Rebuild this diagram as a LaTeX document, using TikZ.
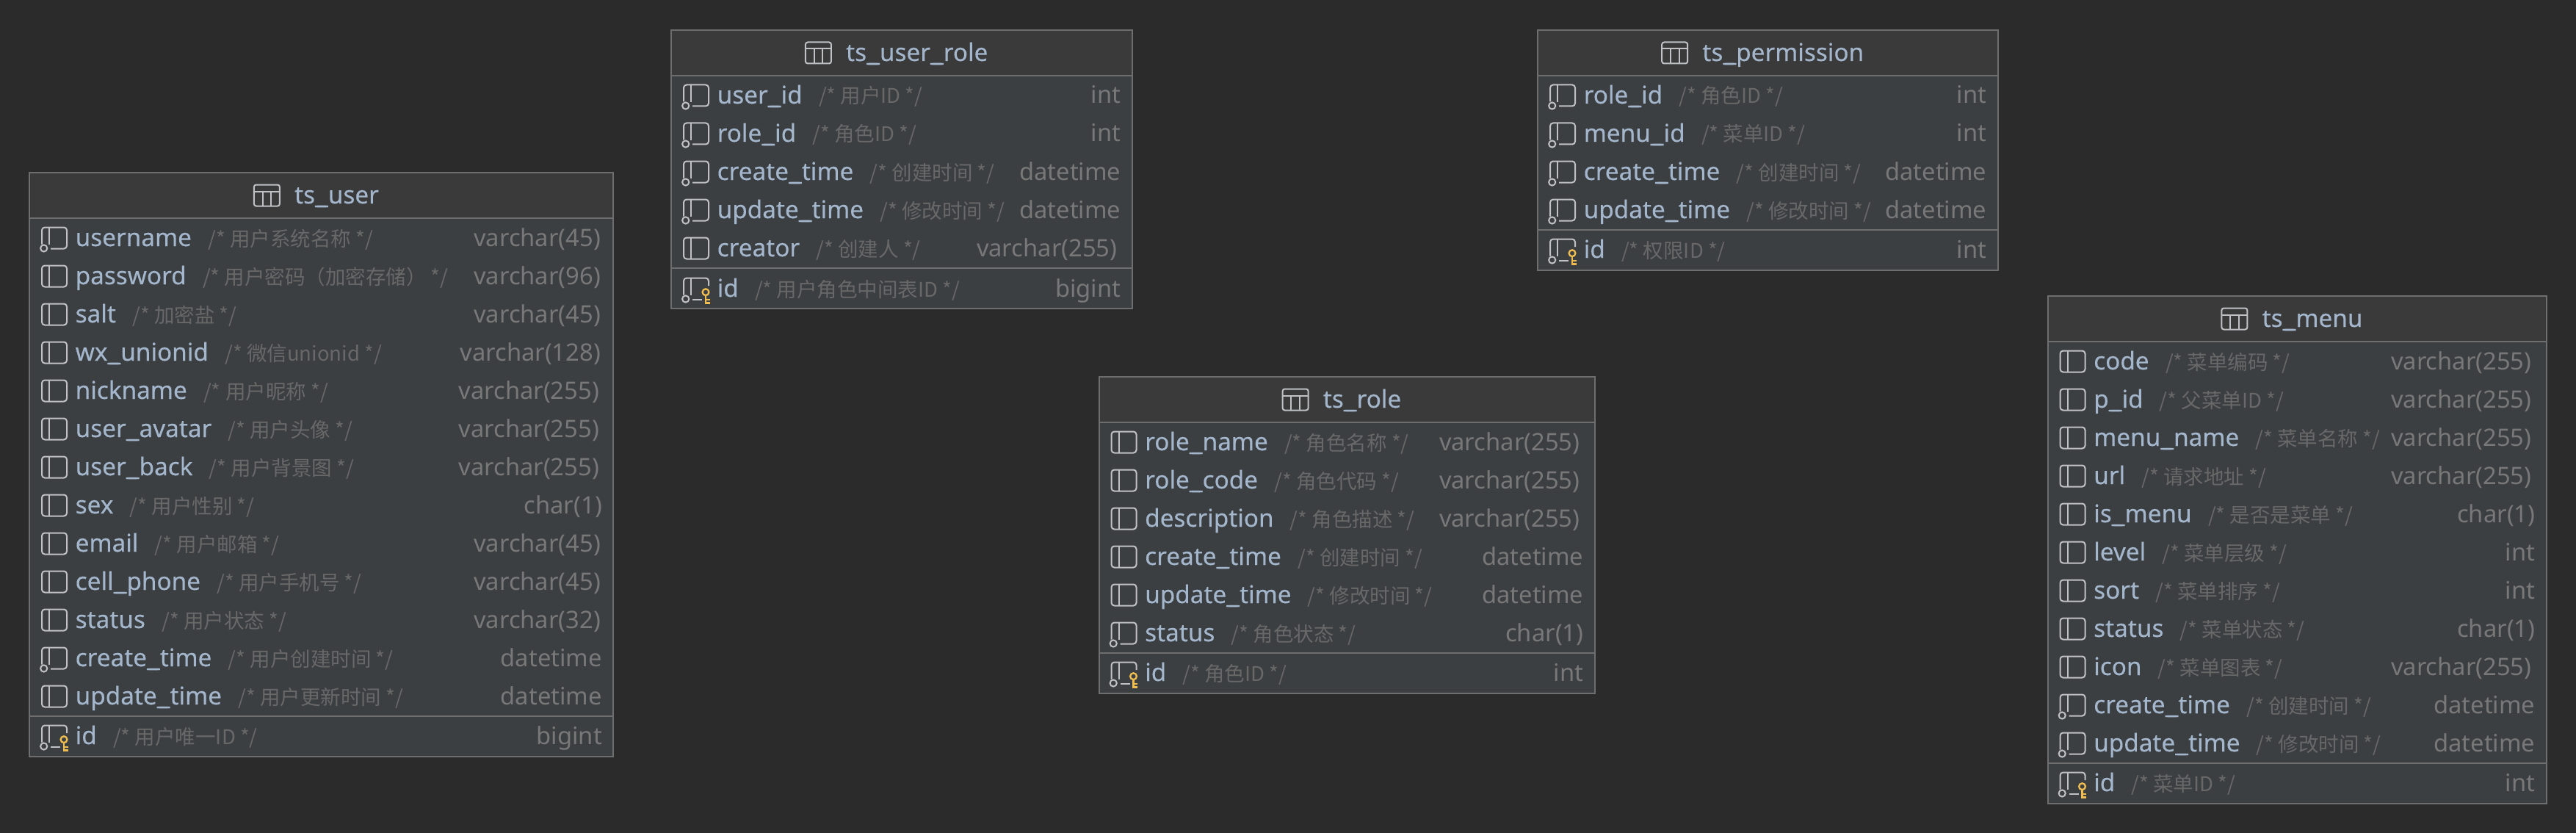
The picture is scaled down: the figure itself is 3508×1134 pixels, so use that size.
\documentclass[tikz,border=0pt]{standalone}
\usepackage{fontspec}
\usepackage{tikz}
\usetikzlibrary{positioning}
\setmainfont{Noto Sans}
\newfontfamily\namefont[FakeBold=0.25]{Noto Sans}
\newfontfamily\cjk{Noto Sans CJK SC}
\definecolor{diagrambg}{HTML}{2B2B2B}
\definecolor{tablebody}{HTML}{3C3F41}
\definecolor{tablehead}{HTML}{3A3A3A}
\definecolor{tableline}{HTML}{6E6E6E}
\definecolor{nametext}{HTML}{A4B6CC}
\definecolor{typetext}{HTML}{787878}
\definecolor{notetext}{HTML}{686868}
\definecolor{iconline}{HTML}{BFC1C4}
\definecolor{keygold}{HTML}{F0BE50}
\tikzset{
    colname/.style={anchor=west, inner sep=0pt, text height=28pt, text depth=6pt, text=nametext, font=\fontsize{33.3}{33.3}\namefont},
    colnote/.style={inner sep=0pt, text height=28pt, text depth=6pt, text=notetext, font=\fontsize{27.5}{27.5}\cjk},
    coltype/.style={anchor=east, inner sep=0pt, text height=28pt, text depth=6pt, text=typetext, font=\fontsize{32.7}{32.7}\selectfont},
    tabletitle/.style={inner sep=0pt, text height=28pt, text depth=6pt, text=nametext, font=\fontsize{33.3}{33.3}\namefont},
    iconstroke/.style={draw=iconline, line width=2pt},
    keystroke/.style={draw=keygold, line width=2.3pt}
}
% Wider underscore, as the names print it
\newcommand{\us}{\rlap{\_}\kern3pt\_}
% Column icons, drawn around the row centre
\newcommand{\plainicon}[1]{
    \draw[iconstroke, shift={(17,#1)}, rounded corners=4pt] (0,-14.5) rectangle (34,14.5);
    \draw[iconstroke, shift={(17,#1)}] (10,-14.5) -- (10,14.5);
}
\newcommand{\fkicon}[1]{
    \draw[iconstroke, shift={(17,#1)}, rounded corners=4pt] (0,8.5) -- (0,-14.5) -- (34,-14.5) -- (34,14.5) -- (12,14.5);
    \draw[iconstroke, shift={(17,#1)}] (10,-14.5) -- (10,9);
    \draw[iconstroke, shift={(17,#1)}] (2.7,14) circle (4.6);
}
\newcommand{\pkicon}[1]{
    \draw[iconstroke, shift={(17,#1)}, rounded corners=4pt] (0,8.5) -- (0,-14.5) -- (34,-14.5) -- (34,-4);
    \draw[iconstroke, shift={(17,#1)}] (10,-14.5) -- (10,9);
    \draw[iconstroke, shift={(17,#1)}] (12,14.5) -- (25,14.5);
    \draw[iconstroke, shift={(17,#1)}] (2.7,14) circle (4.6);
    \draw[keystroke, shift={(17,#1)}] (30,4.7) circle (4.4);
    \draw[keystroke, shift={(17,#1)}] (30,9) -- (30,20.5);
    \draw[keystroke, shift={(17,#1)}] (30,14.8) -- (35.5,14.8);
    \draw[keystroke, shift={(17,#1)}] (30,19.4) -- (35.5,19.4);
}
% One column: [gap on the right] {icon} {node name} {y} {name} {comment} {type}
\newcommand{\tscol}[7][15]{
    \csname #2icon\endcsname{#4}
    \node[colname] (#3) at (62.5,#4) {#5};
    \node[colnote, right=22pt of #3] (#3-note) {/* #6 */};
    \node[coltype] (#3-type) at (\tablew-#1,#4) {#7};
}
% Table frame: {node name} {title} {number of columns above the key}
\newcommand{\tsframe}[3]{
    \pgfmathsetmacro{\sepy}{63.5+52*#3}
    \pgfmathsetmacro{\boty}{\sepy+55}
    \fill[tablebody] (0,62) rectangle (\tablew,\boty);
    \fill[tablehead] (0,0) rectangle (\tablew,62);
    \draw[tableline, line width=2pt] (0,0) rectangle (\tablew,\boty);
    \draw[tableline, line width=2pt] (0,62) -- (\tablew,62);
    \draw[tableline, line width=2pt] (0,\sepy) -- (\tablew,\sepy);
    \node[tabletitle] (#1) at (\tablew/2+21,31) {#2};
    \draw[iconstroke, rounded corners=3pt] ([shift={(-55,-14.5)}]#1.west) rectangle ++(35,29);
    \draw[iconstroke] ([shift={(-55,-5.5)}]#1.west) -- ++(35,0);
    \draw[iconstroke] ([shift={(-43.3,-5.5)}]#1.west) -- ++(0,20);
    \draw[iconstroke] ([shift={(-31.7,-5.5)}]#1.west) -- ++(0,20);
}

\begin{document}
\begin{tikzpicture}[x=1pt, y=-1pt]
    % Background
    \fill[diagrambg] (0,0) rectangle (3508,1134);
    \useasboundingbox (0,0) rectangle (3508,1134);

    % ts_user
    \begin{scope}[shift={(40,235)}]
        \def\tablew{795}
        \tsframe{user}{ts\us user}{13}
        \tscol[17]{fk}{user-username}{89}{username}{用户系统名称}{varchar(45)}
        \tscol[17]{plain}{user-password}{141}{password}{用户密码（加密存储）}{varchar(96)}
        \tscol[17]{plain}{user-salt}{193}{salt}{加密盐}{varchar(45)}
        \tscol[17]{plain}{user-unionid}{245}{wx\us unionid}{微信unionid}{varchar(128)}
        \tscol[19]{plain}{user-nickname}{297}{nickname}{用户昵称}{varchar(255)}
        \tscol[19]{plain}{user-avatar}{349}{user\us avatar}{用户头像}{varchar(255)}
        \tscol[19]{plain}{user-back}{401}{user\us back}{用户背景图}{varchar(255)}
        \tscol{plain}{user-sex}{453}{sex}{用户性别}{char(1)}
        \tscol[17]{plain}{user-email}{505}{email}{用户邮箱}{varchar(45)}
        \tscol[17]{plain}{user-phone}{557}{cell\us phone}{用户手机号}{varchar(45)}
        \tscol[17]{plain}{user-status}{609}{status}{用户状态}{varchar(32)}
        \tscol{fk}{user-create}{661}{create\us time}{用户创建时间}{datetime}
        \tscol{plain}{user-update}{713}{update\us time}{用户更新时间}{datetime}
        \tscol{pk}{user-id}{767}{id}{用户唯一ID}{bigint}
    \end{scope}

    % ts_user_role
    \begin{scope}[shift={(914,41)}]
        \def\tablew{627.5}
        \tsframe{userrole}{ts\us user\us role}{5}
        \tscol{fk}{userrole-user}{89}{user\us id}{用户ID}{int}
        \tscol{fk}{userrole-role}{141}{role\us id}{角色ID}{int}
        \tscol{fk}{userrole-create}{193}{create\us time}{创建时间}{datetime}
        \tscol{fk}{userrole-update}{245}{update\us time}{修改时间}{datetime}
        \tscol[20]{plain}{userrole-creator}{297}{creator}{创建人}{varchar(255)}
        \tscol{pk}{userrole-id}{352}{id}{用户角色中间表ID}{bigint}
    \end{scope}

    % ts_permission
    \begin{scope}[shift={(2094,41)}]
        \def\tablew{626.5}
        \tsframe{perm}{ts\us permission}{4}
        \tscol{fk}{perm-role}{89}{role\us id}{角色ID}{int}
        \tscol{fk}{perm-menu}{141}{menu\us id}{菜单ID}{int}
        \tscol{fk}{perm-create}{193}{create\us time}{创建时间}{datetime}
        \tscol{fk}{perm-update}{245}{update\us time}{修改时间}{datetime}
        \tscol{pk}{perm-id}{299}{id}{权限ID}{int}
    \end{scope}

    % ts_role
    \begin{scope}[shift={(1496.5,513)}]
        \def\tablew{675}
        \tsframe{role}{ts\us role}{6}
        \tscol[20]{plain}{role-name}{89}{role\us name}{角色名称}{varchar(255)}
        \tscol[20]{plain}{role-code}{141}{role\us code}{角色代码}{varchar(255)}
        \tscol[20]{plain}{role-desc}{193}{description}{角色描述}{varchar(255)}
        \tscol{plain}{role-create}{245}{create\us time}{创建时间}{datetime}
        \tscol{plain}{role-update}{297}{update\us time}{修改时间}{datetime}
        \tscol{fk}{role-status}{349}{status}{角色状态}{char(1)}
        \tscol{pk}{role-id}{403}{id}{角色ID}{int}
    \end{scope}

    % ts_menu
    \begin{scope}[shift={(2788.5,403)}]
        \def\tablew{679}
        \tsframe{menu}{ts\us menu}{11}
        \tscol[20]{plain}{menu-code}{89}{code}{菜单编码}{varchar(255)}
        \tscol[20]{plain}{menu-pid}{141}{p\us id}{父菜单ID}{varchar(255)}
        \tscol[20]{plain}{menu-name}{193}{menu\us name}{菜单名称}{varchar(255)}
        \tscol[20]{plain}{menu-url}{245}{url}{请求地址}{varchar(255)}
        \tscol{plain}{menu-ismenu}{297}{is\us menu}{是否是菜单}{char(1)}
        \tscol{plain}{menu-level}{349}{level}{菜单层级}{int}
        \tscol{plain}{menu-sort}{401}{sort}{菜单排序}{int}
        \tscol{plain}{menu-status}{453}{status}{菜单状态}{char(1)}
        \tscol[20]{plain}{menu-icon}{505}{icon}{菜单图表}{varchar(255)}
        \tscol{fk}{menu-create}{557}{create\us time}{创建时间}{datetime}
        \tscol{fk}{menu-update}{609}{update\us time}{修改时间}{datetime}
        \tscol{pk}{menu-id}{663}{id}{菜单ID}{int}
    \end{scope}
\end{tikzpicture}
\end{document}
